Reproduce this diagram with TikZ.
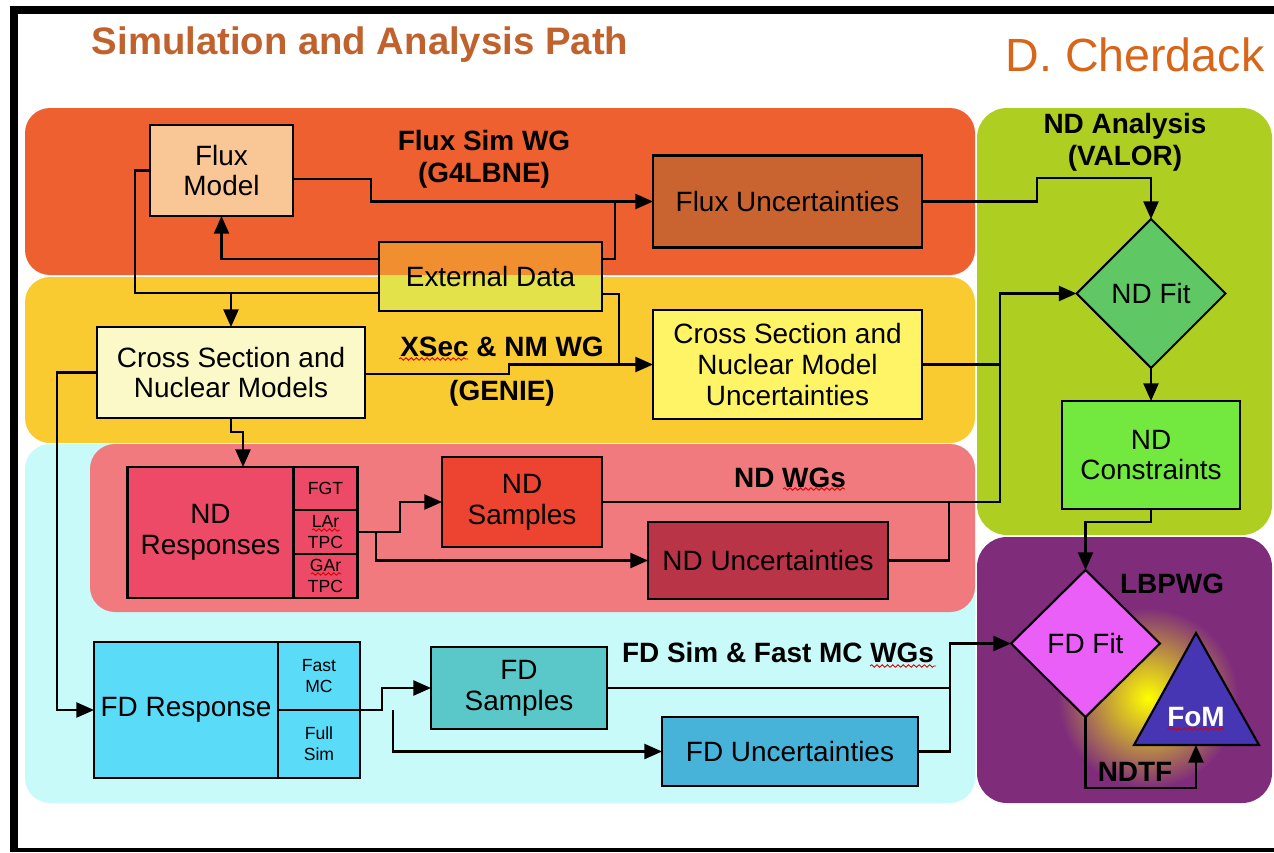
\documentclass[tikz,border=0pt]{standalone}
\usepackage{fontspec}
\setmainfont{Liberation Sans}
\usetikzlibrary{positioning, arrows.meta, shapes.geometric, decorations.pathmorphing}

\definecolor{fluxbg}{HTML}{EF6030}
\definecolor{xsecbg}{HTML}{F9CB30}
\definecolor{fdbg}{HTML}{C8FAFA}
\definecolor{ndbg}{HTML}{F07A7E}
\definecolor{ndabg}{HTML}{AECF22}
\definecolor{lbpbg}{HTML}{7F2D7B}
\definecolor{fluxmodc}{HTML}{F8C795}
\definecolor{fluxuncc}{HTML}{C96430}
\definecolor{exthi}{HTML}{F08E30}
\definecolor{extlo}{HTML}{E3E24A}
\definecolor{xsecc}{HTML}{FBF9C8}
\definecolor{xsecuncc}{HTML}{FEF466}
\definecolor{ndfitc}{HTML}{5FC864}
\definecolor{ndconsc}{HTML}{73E83E}
\definecolor{ndresc}{HTML}{EC4A66}
\definecolor{ndsampc}{HTML}{EC4430}
\definecolor{nduncc}{HTML}{B93447}
\definecolor{fdresc}{HTML}{5ADCF9}
\definecolor{fdsampc}{HTML}{5AC8C8}
\definecolor{fduncc}{HTML}{47B3D8}
\definecolor{fdfitc}{HTML}{EA5FF8}
\definecolor{fomc}{HTML}{4636B4}
\definecolor{titlec}{HTML}{C0622E}
\definecolor{authc}{HTML}{D7661A}

\begin{document}
\begin{tikzpicture}[
    x=0.02cm, y=-0.02cm,
    font=\fontsize{15.9}{17.6}\selectfont,
    box/.style={draw, line width=1.2pt, align=center, inner sep=0pt, outer sep=0pt},
    cell/.style={box, font=\fontsize{10}{12}\selectfont},
    dia/.style={box, diamond, aspect=1},
    lbl/.style={font=\fontsize{15.9}{18}\selectfont\bfseries, align=center, inner sep=0pt},
    ar/.style={-{Triangle[length=10pt,width=8.5pt]}, line width=1.3pt},
    ln/.style={line width=1.3pt},
    squig/.style={red!85!black, line width=0.5pt, decorate,
                  decoration={snake, amplitude=0.7pt, segment length=3pt}},
  ]
  \useasboundingbox (0,0) rectangle (1274,852);
  \fill (10,6) rectangle (1274,14);
  \fill (10,6) rectangle (18,852);
  \fill (10,848) rectangle (1274,852);

  \node[font=\fontsize{21.8}{26}\selectfont\bfseries, text=titlec] (title) at (360,45) {Simulation and Analysis Path};
  \node[font=\fontsize{26.5}{30}\selectfont, text=authc] (author) at (1135,55) {D. Cherdack};

  \fill[fluxbg, rounded corners=0.5cm] (25,108) rectangle (975,275);
  \fill[xsecbg, rounded corners=0.5cm] (25,277) rectangle (975,443);
  \fill[fdbg, rounded corners=0.5cm] (25,444) rectangle (975,803);
  \fill[ndbg, rounded corners=0.5cm] (90,444) rectangle (975,612);
  \fill[ndabg, rounded corners=0.6cm] (977,108) rectangle (1272,535);
  \fill[lbpbg, rounded corners=0.6cm] (977,537) rectangle (1272,803);
  \shade[inner color=yellow, outer color=lbpbg] (1148,698) circle [radius=1.8cm];

  \node[box, fill=fluxmodc, minimum width=2.86cm, minimum height=1.82cm] (fluxmodel) at (221.5,170.5) {Flux\\Model};
  \node[box, fill=fluxuncc, minimum width=5.38cm, minimum height=1.84cm] (fluxunc) at (787.5,201.5) {Flux Uncertainties};
  \node[box, fill=extlo, minimum width=4.46cm, minimum height=1.38cm,
        path picture={\fill[exthi] (path picture bounding box.north west) rectangle ([yshift=-0.66cm]path picture bounding box.north east);}]
        (extdata) at (490.5,276.5) {External Data};
  \node[box, fill=xsecc, minimum width=5.36cm, minimum height=1.82cm] (xsec) at (231,372.5) {Cross Section and\\Nuclear Models};
  \node[box, fill=xsecuncc, minimum width=5.38cm, minimum height=2.18cm] (xsecunc) at (787.5,364.5) {Cross Section and\\Nuclear Model\\Uncertainties};
  \node[dia, fill=ndfitc, minimum width=2.98cm, minimum height=2.98cm] (ndfit) at (1151,293.5) {ND Fit};
  \node[box, fill=ndconsc, minimum width=3.56cm, minimum height=2.16cm] (ndcons) at (1151,455) {ND\\Constraints};

  \node[box, fill=ndresc, minimum width=3.32cm, minimum height=2.62cm] (ndresp) at (210.5,532.5) {ND\\Responses};
  \node[cell, fill=ndresc, minimum width=1.28cm, minimum height=0.86cm, anchor=north west] (fgt) at (ndresp.north east) {FGT};
  \node[cell, fill=ndresc, minimum width=1.28cm, minimum height=0.88cm, below=0pt of fgt] (lar) {LAr\\TPC};
  \node[cell, fill=ndresc, minimum width=1.28cm, minimum height=0.88cm, below=0pt of lar] (gar) {GAr\\TPC};
  \node[box, fill=ndsampc, minimum width=3.2cm, minimum height=1.8cm] (ndsamp) at (522,502) {ND\\Samples};
  \node[box, fill=nduncc, minimum width=4.8cm, minimum height=1.54cm] (ndunc) at (768,560.5) {ND Uncertainties};

  \node[box, fill=fdresc, minimum width=3.68cm, minimum height=2.72cm] (fdresp) at (186,710) {FD Response};
  \node[cell, fill=fdresc, minimum width=1.64cm, minimum height=1.36cm, anchor=north west] (fastmc) at (fdresp.north east) {Fast\\MC};
  \node[cell, fill=fdresc, minimum width=1.64cm, minimum height=1.36cm, below=0pt of fastmc] (fullsim) {Full\\Sim};
  \node[box, fill=fdsampc, minimum width=3.52cm, minimum height=1.64cm] (fdsamp) at (519,688) {FD\\Samples};
  \node[box, fill=fduncc, minimum width=5.12cm, minimum height=1.38cm] (fdunc) at (790,751.5) {FD Uncertainties};
  \node[dia, fill=fdfitc, minimum width=2.98cm, minimum height=2.94cm] (fdfit) at (1085.5,643.5) {FD Fit};

  \draw[line width=1.2pt, fill=fomc] (1196,633) -- (1134,745) -- (1259,745) -- cycle;
  \coordinate (fombase) at (1196,745);
  \node[lbl, text=white] (fom) at (1196,717) {FoM};

  \node[lbl] (fluxlbl) at (484,159.5) {Flux Sim WG\\(G4LBNE)};
  \node[lbl] (xseclbl) at (502,347) {XSec \& NM WG};
  \node[lbl] (genielbl) at (502,393) {(GENIE)};
  \node[lbl] (ndalbl) at (1125,142) {ND Analysis\\(VALOR)};
  \node[lbl] (ndwglbl) at (790,478) {ND WGs};
  \node[lbl] (fdwglbl) at (778,653) {FD Sim \& Fast MC WGs};
  \node[lbl] (lbplbl) at (1172,584) {LBPWG};
  \node[lbl] (ndtflbl) at (1135,772) {NDTF};

  \draw[squig] (399,359) -- (468,359);
  \draw[squig] (783,489) -- (845,489);
  \draw[squig] (312,530) -- (340,530);
  \draw[squig] (311,574) -- (341,574);
  \draw[squig] (870,666) -- (936,666);
  \draw[squig] (1167,729) -- (1224,729);

  \draw[ar] (fluxmodel.east |- 0,179) -- (371,179) |- (fluxunc.west);
  \draw[ln] (extdata.east |- 0,259) -| (615,201.5);
  \draw[ar] (extdata.west |- 0,259) -| (fluxmodel.south);
  \draw[ar] (fluxmodel.west) -| (135,293) -| (xsec.north);
  \draw[ln] (extdata.west |- 0,293) -- (231,293);
  \draw[ar] (xsec.east |- 0,374) -- (509,374) |- (xsecunc.west);
  \draw[ln] (extdata.east |- 0,294) -| (619,364.5);
  \draw[ar] (xsec.south) |- (243,432) -- (ndresp.north -| 243,0);
  \draw[ar] (xsec.west) -| (57,710) -- (fdresp.west);
  \draw[ar] (lar.east) -| (400,502) -- (ndsamp.west);
  \draw[ar] (lar.east -| 376,0) |- (ndunc.west);
  \draw[ar] (ndsamp.east) -| (1000,293.5) -- (ndfit.west);
  \draw[ln] (xsecunc.east) -- (xsecunc.east -| 1000,0);
  \draw[ln] (ndunc.east) -| (949,502);
  \draw[ar] (fluxunc.east) -| (1037,178) -| (ndfit.north);
  \draw[ar] (ndfit.south) -- (ndcons.north);
  \draw[ar] (ndcons.south) -- (ndcons.south |- 0,522) -| (fdfit.north);
  \draw[ar] (fdsamp.east) -| (950,643.5) -- (fdfit.west);
  \draw[ln] (fdunc.east) -| (950,688);
  \draw[ar] (fdresp.east) -| (382,688) -- (fdsamp.west);
  \draw[ar] (fdresp.east -| 393,0) |- (fdunc.west);
  \draw[ar] (fdfit.south) |- (1196,788) -- (fombase);
\end{tikzpicture}
\end{document}
